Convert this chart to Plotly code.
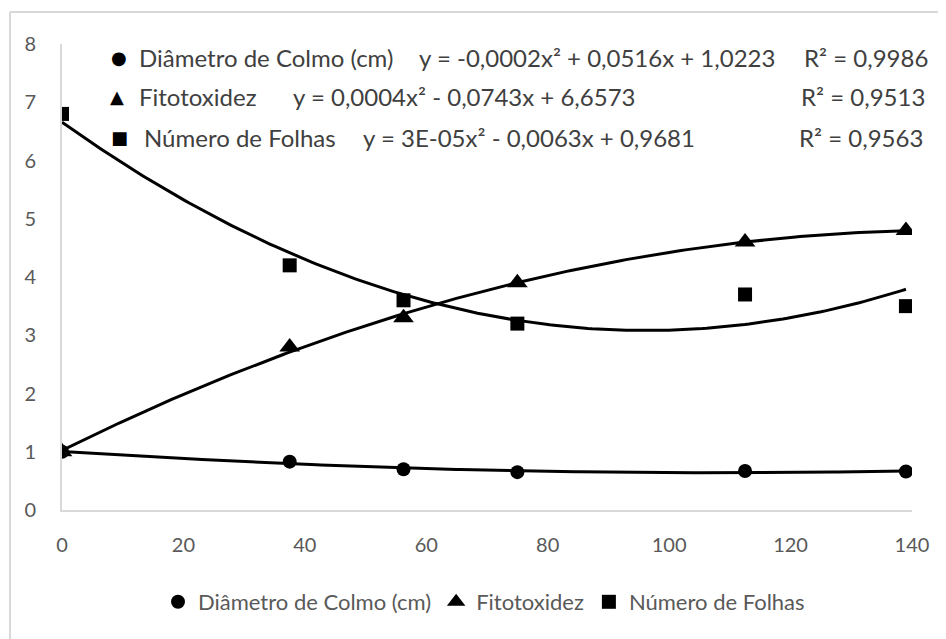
import numpy as np
import plotly.graph_objects as go

# ---- data ----
doses = [0, 37.5, 56.25, 75, 112.5, 139]
diametro = [1.0, 0.83, 0.70, 0.65, 0.67, 0.66]
fitotox = [1.0, 2.8, 3.3, 3.9, 4.6, 4.8]
folhas = [6.8, 4.2, 3.6, 3.2, 3.7, 3.5]

series_names = ["Diâmetro de Colmo (cm)", "Fitotoxidez", "Número de Folhas"]
equations = ["y = -0,0002x² + 0,0516x + 1,0223",
             "y = 0,0004x² - 0,0743x + 6,6573",
             "y = 3E-05x² - 0,0063x + 0,9681"]
r2_labels = ["R² = 0,9986", "R² = 0,9513", "R² = 0,9563"]
x_ticks = [0, 20, 40, 60, 80, 100, 120, 140]
y_ticks = [0, 1, 2, 3, 4, 5, 6, 7, 8]

# ---- layout geometry (screen pixels; page body has an 8px margin) ----
OFF = 8
W, H = 946 - OFF, 639 - OFF
L, R, T, B = 62, 912, 44, 510   # plot area on screen
def px(x):  # screen pixel -> paper x
    return (x - L) / (R - L)
def py(y):  # screen pixel -> paper y
    return (B - y) / (B - T)

FONT = "Lato"
TXT = "#404040"
TICK = "#595959"

fig = go.Figure()

symbols = ["circle", "triangle-up", "square"]
sizes = [14, 18, 14]
all_y = [diametro, fitotox, folhas]

# trendlines (2nd-order polynomial fits of the data)
xs = np.linspace(min(doses), max(doses), 200)
for yv in all_y:
    c = np.polyfit(doses, yv, 2)
    fig.add_trace(go.Scatter(x=xs, y=np.polyval(c, xs), mode="lines",
                             line=dict(color="black", width=3),
                             showlegend=False, hoverinfo="skip"))

for name, yv, sym, sz in zip(series_names, all_y, symbols, sizes):
    fig.add_trace(go.Scatter(x=doses, y=yv, mode="markers", name=name,
                             marker=dict(symbol=sym, size=sz, color="black")))

# equation block in upper area
rows_y = [57, 97, 137]
sym_x = [119, 117, 119]
name_x = [138, 138, 143]
eq_x = [418, 292, 362]
r2_x = [803, 800, 798]
marker_chars = ["●", "▲", "■"]
anns = []
for i in range(3):
    anns.append(dict(x=px(sym_x[i]), y=py(rows_y[i]), xref="paper", yref="paper",
                     text=marker_chars[i], showarrow=False, xanchor="center",
                     yanchor="middle", font=dict(family="DejaVu Sans", size=18, color="black")))
    for txt, xx in ((series_names[i], name_x[i]), (equations[i], eq_x[i]), (r2_labels[i], r2_x[i])):
        anns.append(dict(x=px(xx), y=py(rows_y[i]), xref="paper", yref="paper",
                         text=txt, showarrow=False, xanchor="left", borderpad=0,
                         yanchor="middle", font=dict(family=FONT, size=24, color=TXT)))

shapes = [
    dict(type="line", xref="paper", yref="paper", x0=px(10), x1=px(960),
         y0=py(12), y1=py(12), line=dict(color="#d9d9d9", width=2)),
    dict(type="line", xref="paper", yref="paper", x0=px(10), x1=px(10),
         y0=py(12), y1=py(660), line=dict(color="#d9d9d9", width=2)),
]

fig.update_layout(
    width=W, height=H,
    margin=dict(l=L - OFF, r=(W + OFF) - R, t=T - OFF, b=(H + OFF) - B, autoexpand=False),
    paper_bgcolor="white", plot_bgcolor="white",
    font=dict(family=FONT, color=TICK, size=20),
    annotations=anns, shapes=shapes,
    legend=dict(orientation="h", x=px(484), xanchor="center", y=py(602),
                yanchor="middle", font=dict(family=FONT, size=22, color=TICK),
                itemwidth=30, tracegroupgap=0, bgcolor="rgba(0,0,0,0)"),
    xaxis=dict(range=[0, 140], tickvals=x_ticks, showgrid=False, zeroline=False,
               showline=True, linecolor="#d9d9d9", linewidth=2, ticks="",
               ticklabelstandoff=16, tickfont=dict(size=20, color=TICK)),
    yaxis=dict(range=[0, 8], tickvals=y_ticks, showgrid=False, zeroline=False,
               showline=True, linecolor="#d9d9d9", linewidth=2, ticks="",
               ticklabelstandoff=20, tickfont=dict(size=20, color=TICK)),
)

fig.write_html("out.html")
